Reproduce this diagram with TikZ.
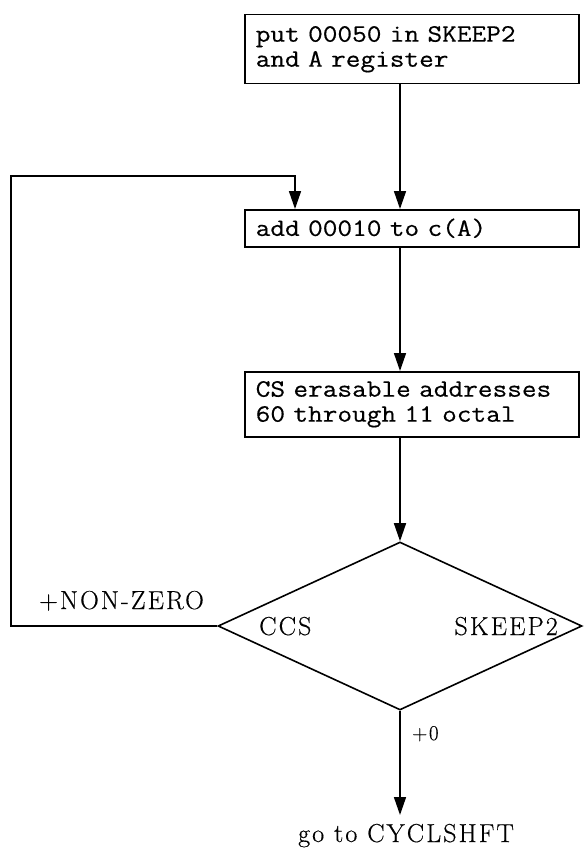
\documentclass[tikz,border=0pt]{standalone}
\usepackage{fontspec}
\usetikzlibrary{arrows.meta,shapes.geometric}
\newfontfamily\twfont{Latin Modern Mono}[FakeStretch=1.14,FakeBold=0.5]
\newfontfamily\labfont{Latin Modern Roman}[LetterSpace=8,FakeBold=0.4]
\begin{document}
\begin{tikzpicture}[x=1pt,y=-1pt,
  conn/.style={line width=1.6pt},
  arr/.style={conn,-{Triangle[length=18pt,width=12pt]}},
  procbox/.style={draw,line width=1.5pt,anchor=north west,inner xsep=11pt,inner ysep=0pt,
    text width=312pt,align=left,font=\twfont\fontsize{25}{25}\selectfont},
  lab/.style={inner sep=0pt,font=\labfont\fontsize{26}{28}\selectfont},
]
\useasboundingbox (0,0) rectangle (586,856);
\node[procbox,minimum height=69pt] (b1) at (244,14) {put 00050 in SKEEP2\\and A register};
\node[procbox,minimum height=37pt] (b2) at (244,209) {add 00010 to c(A)};
\node[procbox,minimum height=65pt] (b3) at (244,371) {CS erasable addresses\\60 through 11 octal};
\node[draw,diamond,line width=1.6pt,minimum width=364pt,minimum height=168pt,inner sep=0pt] (d) at (400,626) {};
\node[lab,anchor=base west] (ccs) at (259,635) {CCS};
\node[lab,anchor=base east] (sk) at (558,635) {SKEEP2};
\node[lab,anchor=base west] (nz) at (39,609) {+NON-ZERO};
\node[lab,anchor=base west,font=\labfont\fontsize{21}{24}\selectfont] (z) at (412,740) {+0};
\node[lab,anchor=base west] (go) at (298,842) {go to CYCLSHFT};
\coordinate (lc) at (11,176);
\coordinate (b2in) at (295,209);
\coordinate (goin) at (400,815);
\draw[arr] (b1.south -| d.north) -- (b2.north -| d.north);
\draw[arr] (b2.south -| d.north) -- (b3.north -| d.north);
\draw[arr] (b3.south -| d.north) -- (d.north);
\draw[arr] (d.west) -| (lc) -| (b2in);
\draw[arr] (d.south) -- (goin);
\end{tikzpicture}
\end{document}
